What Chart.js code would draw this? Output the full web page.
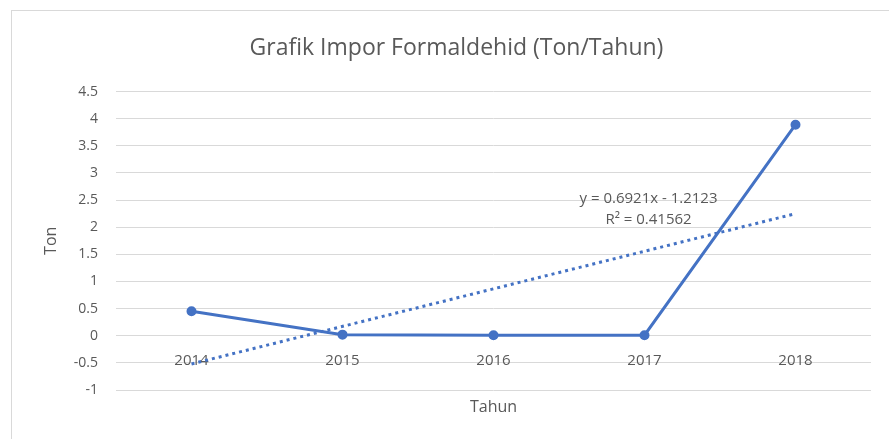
<!DOCTYPE html>
<html>
<head>
<meta charset="utf-8">
<script src="https://cdn.jsdelivr.net/npm/chart.js@4"></script>
<style>
  html, body { margin: 0; padding: 0; background: #fff; }
  #frame {
    position: absolute; left: 11px; top: 10px; width: 877px; height: 428px;
    border-left: 1px solid #d9d9d9; border-top: 1px solid #d9d9d9;
  }
</style>
</head>
<body>
<div id="frame"><canvas id="imporChart" width="877" height="428"></canvas></div>
<script>
const years = ['2014', '2015', '2016', '2017', '2018'];
const imporTon = [0.45, 0.02, 0.01, 0.01, 3.89];
// linear trendline (Excel) only at its two ends
const trendTon = [-0.52, null, null, null, 2.25];
const trendText = ['y = 0.6921x - 1.2123', 'R² = 0.41562'];

const grey = '#595959';
const blue = '#4472C4';
const font = '"Open Sans", "Liberation Sans", sans-serif';

const extraText = {
    id: 'extraText',
    afterDatasetsDraw(chart) {
        const ctx = chart.ctx;
        const xs = chart.scales.x, ys = chart.scales.y;
        ctx.save();
        ctx.fillStyle = grey;
        ctx.textAlign = 'center';
        ctx.textBaseline = 'middle';
        ctx.font = '15px ' + font;
        const tx = xs.getPixelForValue(3) + 4;
        ctx.fillText(trendText[0], tx, ys.getPixelForValue(2.53));
        ctx.fillText(trendText[1], tx, ys.getPixelForValue(2.14));
        // x axis title
        ctx.font = '16px ' + font;
        const a = chart.chartArea;
        ctx.fillText('Tahun', (a.left + a.right) / 2, a.bottom + 17);
        ctx.restore();
    }
};

const imporChart = new Chart(document.getElementById('imporChart').getContext('2d'), {
    type: 'line',
    data: {
        labels: years,
        datasets: [{
            label: 'Impor',
            data: imporTon,
            borderColor: blue,
            backgroundColor: blue,
            borderWidth: 3,
            pointRadius: 3.5,
            pointHoverRadius: 3.5,
            tension: 0
        }, {
            label: 'Linear',
            data: trendTon,
            spanGaps: true,
            borderColor: blue,
            borderWidth: 3,
            borderDash: [3, 4],
            pointRadius: 0,
            tension: 0
        }]
    },
    options: {
        responsive: false,
        animation: false,
        layout: { padding: { left: 30, right: 18, bottom: 49 } },
        plugins: {
            legend: { display: false },
            tooltip: { enabled: false },
            title: {
                display: true,
                text: 'Grafik Impor Formaldehid (Ton/Tahun)',
                color: grey,
                font: { family: font, size: 23, weight: 'normal' },
                padding: { top: 24, bottom: 29 }
            }
        },
        scales: {
            x: {
                position: { y: 0 },
                offset: true,
                grid: { display: false, drawTicks: false },
                border: { display: false },
                ticks: { color: grey, font: { family: font, size: 15 }, padding: 16 }
            },
            y: {
                min: -1,
                max: 4.5,
                grid: { color: '#d9d9d9', drawTicks: false },
                border: { display: false },
                ticks: {
                    stepSize: 0.5, color: grey, font: { family: font, size: 14 }, padding: 18,
                    callback: v => String(Number(v.toFixed(1)))
                },
                title: { display: true, text: 'Ton', color: grey, font: { family: font, size: 16 }, padding: 0 },
                afterFit: scale => { scale.width = 74; }
            }
        }
    },
    plugins: [extraText]
});
</script>
</body>
</html>
